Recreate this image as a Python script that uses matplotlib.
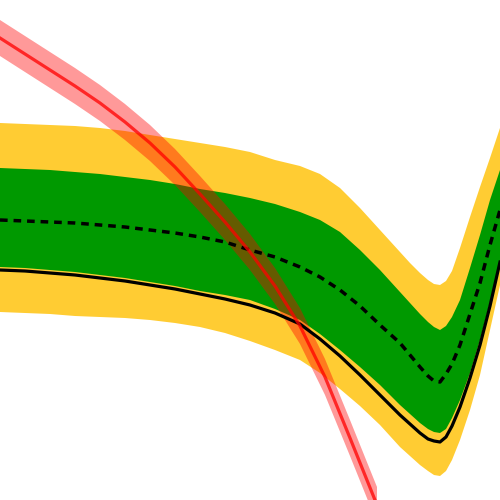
import numpy as np
import matplotlib
matplotlib.use("Agg")
import matplotlib.pyplot as plt

# values (horizontal position, vertical position counted from the top)
mass = [0, 25, 50, 75, 100, 125, 150, 175, 200, 225, 250, 275, 300, 320, 340,
        360, 380, 400, 410, 420, 428, 434, 440, 446, 452, 460, 470, 480, 490, 500]

exp_p2 = [123, 124, 125, 126, 128, 131, 135, 139, 143, 147, 152, 160, 166, 174, 188,
          208, 230, 252, 263, 273, 280, 284, 285, 281, 271, 248, 217, 187, 158, 128]
exp_p1 = [168, 169, 170, 172, 174, 177, 180, 184, 189, 193, 198, 204, 212, 220, 232,
          250, 270, 292, 303, 314, 322, 327, 330, 326, 317, 300, 268, 235, 200, 170]
exp_med = [220, 221, 222, 223, 225, 227, 230, 233, 237, 242, 250, 257, 267, 277, 290,
           306, 325, 343, 355, 367, 376, 381, 382, 374, 364, 345, 314, 283, 245, 210]
exp_m1 = [267, 268, 270, 272, 275, 278, 282, 286, 291, 295, 300, 309, 320, 334, 350,
          367, 385, 405, 414, 423, 429, 432, 433, 429, 418, 400, 373, 340, 302, 260]
exp_m2 = [312, 313, 314, 316, 317, 318, 320, 323, 327, 333, 341, 350, 360, 373, 389,
          406, 425, 447, 456, 465, 471, 475, 476, 471, 460, 440, 410, 375, 330, 285]
observed = [270, 271, 273, 275, 278, 281, 285, 289, 294, 299, 305, 313, 324, 339, 356,
            375, 395, 415, 424, 433, 439, 441, 442, 437, 426, 407, 378, 345, 306, 262]

th_mass = [0, 25, 50, 75, 100, 125, 150, 175, 200, 225, 250, 275, 300, 325, 350, 377]
theory = [38, 54, 70, 86, 103, 122, 143, 167, 194, 222, 252, 286, 326, 377, 438, 505]
theory_hi = [20, 36, 52, 68, 85, 104, 125, 149, 176, 204, 234, 268, 308, 359, 420, 487]
theory_lo = [56, 72, 88, 104, 121, 140, 161, 185, 212, 240, 270, 304, 344, 395, 456, 523]

fig = plt.figure(figsize=(5, 5), dpi=100)
ax = fig.add_axes([0, 0, 1, 1])

ax.fill_between(mass, exp_m2, exp_p2, color="#ffcc33", lw=0)
ax.fill_between(mass, exp_m1, exp_p1, color="#009900", lw=0)
ax.plot(mass, exp_med, color="black", lw=2.5, dashes=(2.2, 1.7))
ax.plot(mass, observed, color="black", lw=2.3, solid_joinstyle="round")

ax.fill_between(th_mass, theory_lo, theory_hi, color="red", alpha=0.4, lw=0)
ax.plot(th_mass, theory, color="red", alpha=0.75, lw=2.3)

ax.set_xlim(0, 500)
ax.set_ylim(500, 0)
ax.axis("off")

fig.savefig("out.png", dpi=100, facecolor="white")
